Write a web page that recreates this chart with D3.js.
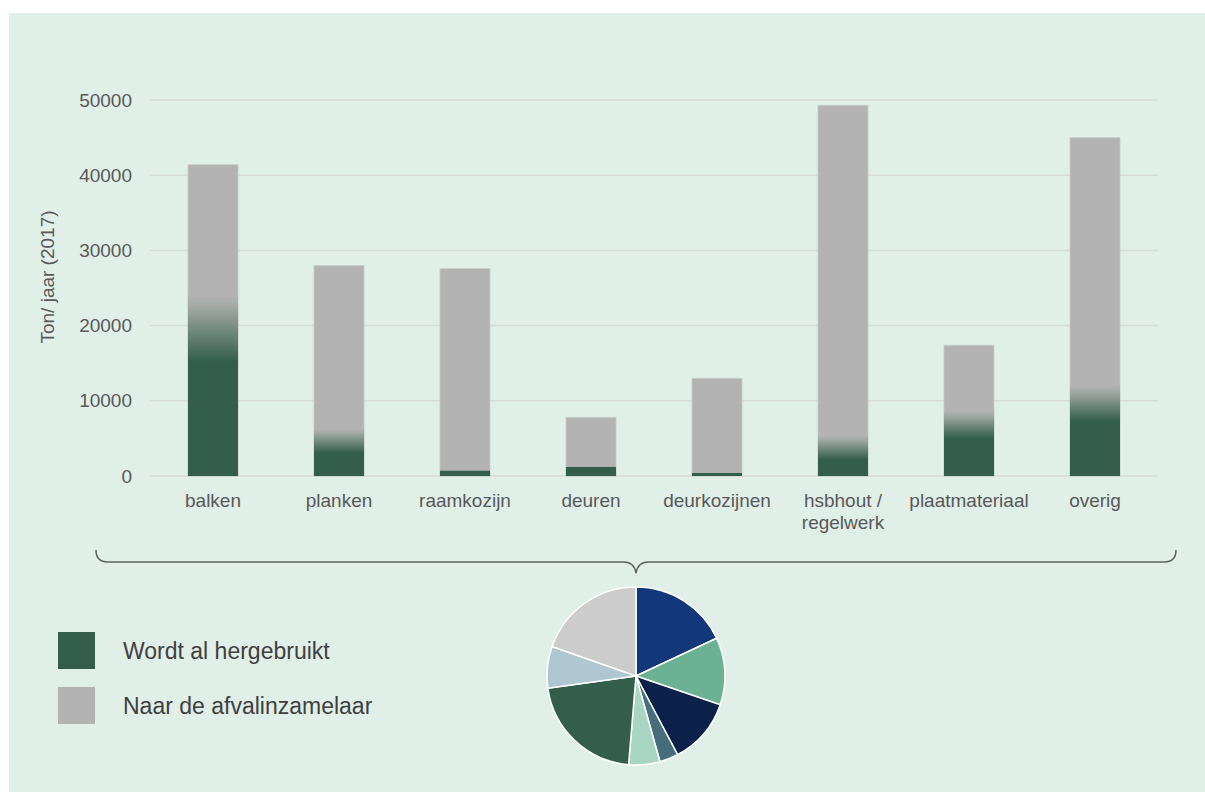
<!DOCTYPE html>
<html>
<head>
<meta charset="utf-8">
<script src="https://cdn.jsdelivr.net/npm/d3@7"></script>
<style>
  html, body { margin: 0; padding: 0; background: #ffffff; }
  text { font-family: "Liberation Sans", Arial, sans-serif; }
</style>
</head>
<body>
<div id="cont"></div>
<script>
// Data (ton/jaar 2017)
var categories = ["balken", "planken", "raamkozijn", "deuren", "deurkozijnen", "hsbhout / regelwerk", "plaatmateriaal", "overig"];
var labelLines = [["balken"], ["planken"], ["raamkozijn"], ["deuren"], ["deurkozijnen"], ["hsbhout /", "regelwerk"], ["plaatmateriaal"], ["overig"]];
var reused = [23000, 5200, 700, 1200, 400, 4300, 7600, 11000];
var totals = [41400, 28000, 27600, 7800, 13000, 49300, 17400, 45000];
var yTicks = [0, 10000, 20000, 30000, 40000, 50000];
var legendItems = ["Wordt al hergebruikt", "Naar de afvalinzamelaar"];
var pieColors = ["#12377a", "#6bb194", "#0c214a", "#466d7b", "#a9d5c3", "#335e4b", "#afc7d1", "#cccccc"];

var green = "#335e4b";
var grey = "#b3b3b3";

var svg = d3.select("#cont").append("svg")
    .attr("width", 1205)
    .attr("height", 792);

// panel background
svg.append("rect")
    .attr("x", 9).attr("y", 13)
    .attr("width", 1196).attr("height", 779)
    .attr("fill", "#e0efe8");

var defs = svg.append("defs");
var grad = defs.append("linearGradient")
    .attr("id", "fade")
    .attr("x1", 0).attr("y1", 0).attr("x2", 0).attr("y2", 1);
grad.append("stop").attr("offset", 0).attr("stop-color", grey);
grad.append("stop").attr("offset", 0.15).attr("stop-color", "#a5aba8");
grad.append("stop").attr("offset", 1).attr("stop-color", green);

var x = d3.scaleBand()
    .domain(categories)
    .range([150, 1158])
    .paddingInner(0.603)
    .paddingOuter(0.3015);

var y = d3.scaleLinear()
    .domain([0, 50000])
    .range([476, 100]);

// gridlines
svg.append("g").selectAll("line")
    .data(yTicks)
    .join("line")
    .attr("x1", 150).attr("x2", 1158)
    .attr("y1", function(d) { return y(d); })
    .attr("y2", function(d) { return y(d); })
    .attr("stroke", "#d6dcd8")
    .attr("stroke-width", 1.5);

// y axis labels
var yAxis = svg.append("g")
    .attr("transform", "translate(150,0)")
    .call(d3.axisLeft(y).tickValues(yTicks).tickSize(0).tickPadding(18).tickFormat(d3.format("d")));
yAxis.select(".domain").remove();
yAxis.selectAll("text")
    .attr("font-size", 19)
    .attr("fill", "#595959")
    .style("font-family", "'Liberation Sans', Arial, sans-serif");

svg.append("text")
    .attr("transform", "translate(54,277) rotate(-90)")
    .attr("text-anchor", "middle")
    .attr("font-size", 19)
    .attr("fill", "#595959")
    .text("Ton/ jaar (2017)");

// bars
var bars = svg.append("g").selectAll("g")
    .data(categories)
    .join("g");

bars.append("rect")
    .attr("x", function(d) { return x(d); })
    .attr("y", function(d, i) { return y(totals[i]); })
    .attr("width", x.bandwidth())
    .attr("height", function(d, i) { return y(0) - y(totals[i]); })
    .attr("fill", grey)
    .attr("stroke", "#c9cdcb")
    .attr("stroke-width", 0.8);

bars.append("rect")
    .attr("x", function(d) { return x(d); })
    .attr("y", function(d, i) { return y(reused[i]); })
    .attr("width", x.bandwidth())
    .attr("height", function(d, i) { return y(0) - y(reused[i]); })
    .attr("fill", green);

// soft transition from green into grey
bars.filter(function(d, i) { return y(0) - y(reused[i]) > 20; })
    .append("rect")
    .attr("x", function(d) { return x(d); })
    .attr("y", function(d) { return y(reused[categories.indexOf(d)]) - 8; })
    .attr("width", x.bandwidth())
    .attr("height", function(d) {
        var h = y(0) - y(reused[categories.indexOf(d)]);
        return 8 + Math.max(16, h * 0.34);
    })
    .attr("fill", "url(#fade)");

// x labels
var xl = svg.append("g").selectAll("text")
    .data(categories)
    .join("text")
    .attr("x", function(d) { return x(d) + x.bandwidth() / 2; })
    .attr("y", 507)
    .attr("text-anchor", "middle")
    .attr("font-size", 19)
    .attr("fill", "#595959");
xl.selectAll("tspan")
    .data(function(d, i) { return labelLines[i]; })
    .join("tspan")
    .attr("x", function() { var p = this.parentNode; return p.getAttribute("x"); })
    .attr("dy", function(d, i) { return i === 0 ? 0 : 21.5; })
    .text(function(d) { return d; });

// brace
svg.append("path")
    .attr("d", "M96,550 Q96,562 108,562 L624,562 Q634,562 636,573 Q638,562 648,562 L1164,562 Q1176,562 1176,550")
    .attr("fill", "none")
    .attr("stroke", "#5f6360")
    .attr("stroke-width", 1.5);

// pie of the totals
var pie = d3.pie().sort(null)(totals);
var arc = d3.arc().innerRadius(0).outerRadius(89);
svg.append("g")
    .attr("transform", "translate(636,676)")
    .selectAll("path")
    .data(pie)
    .join("path")
    .attr("d", arc)
    .attr("fill", function(d, i) { return pieColors[i]; })
    .attr("stroke", "#ffffff")
    .attr("stroke-width", 1.5);

// legend
var leg = svg.append("g").selectAll("g")
    .data(legendItems)
    .join("g")
    .attr("transform", function(d, i) { return "translate(58," + (632 + i * 55) + ")"; });
leg.append("rect")
    .attr("width", 37).attr("height", 37)
    .attr("fill", function(d, i) { return i === 0 ? green : grey; });
leg.append("text")
    .attr("x", 65).attr("y", 27)
    .attr("font-size", 23)
    .attr("fill", "#404040")
    .text(function(d) { return d; });
</script>
</body>
</html>
